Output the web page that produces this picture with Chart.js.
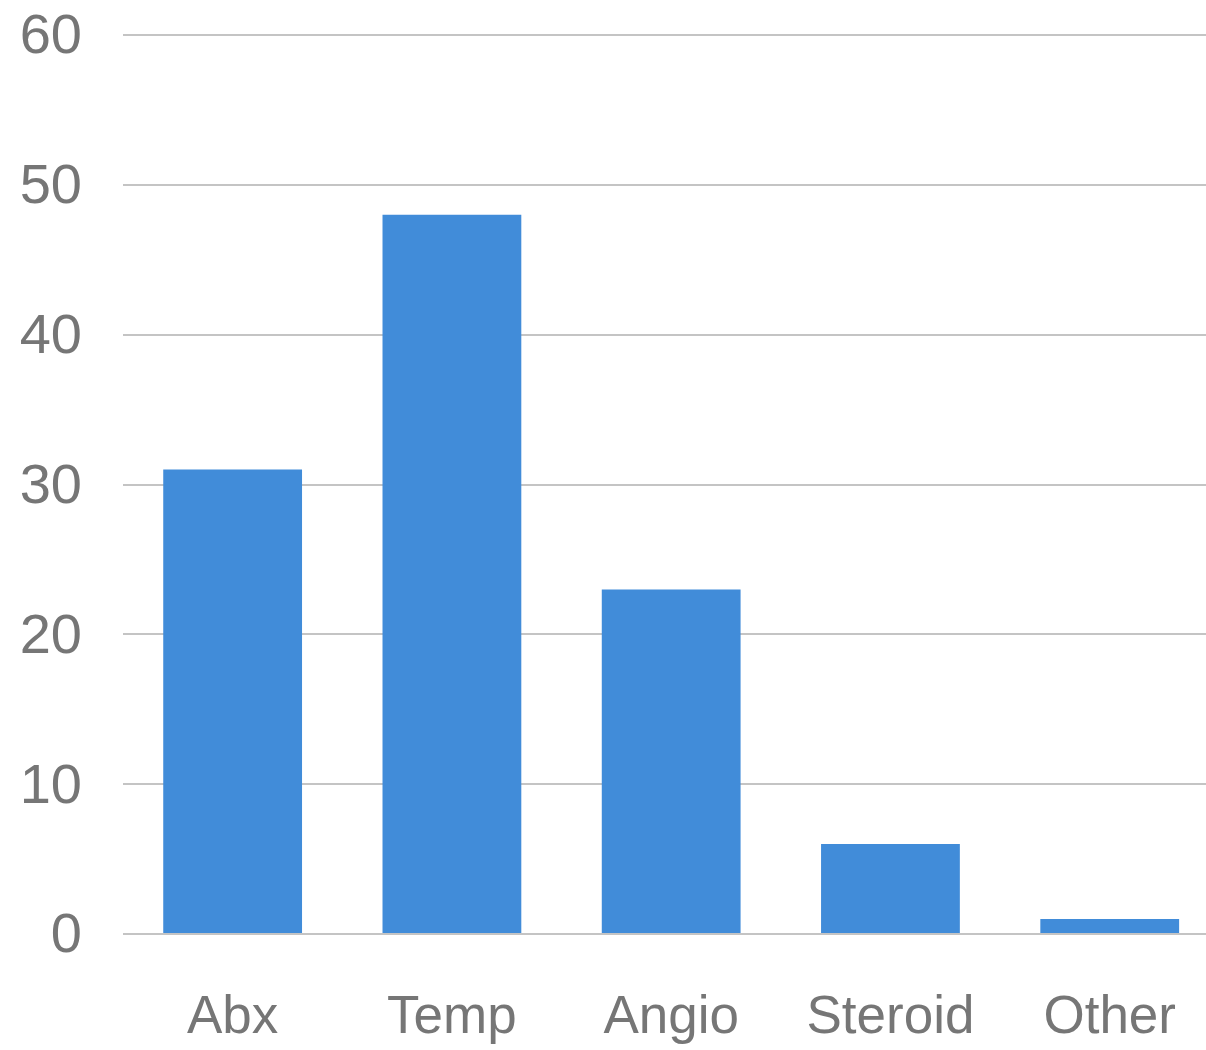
<!DOCTYPE html>
<html>
<head>
<meta charset="utf-8">
<script src="https://cdn.jsdelivr.net/npm/chart.js@4/dist/chart.umd.min.js"></script>
<style>
  html, body { margin: 0; padding: 0; background: #fff; overflow: hidden; }
  /* plot runs a little past the right edge of the window */
  #wrap { width: 1221px; height: 1050px; }
</style>
</head>
<body>
<div id="wrap"><canvas id="chart"></canvas></div>
<script>
// categories and counts
var categories = ["Abx", "Temp", "Angio", "Steroid", "Other"];
var counts = [31, 48, 23, 6, 1];
var yTicks = [0, 10, 20, 30, 40, 50, 60];

var ctx = document.getElementById("chart");

var myChart = new Chart(ctx, {
  type: "bar",
  data: {
    labels: categories,
    datasets: [
      {
        label: "Count",
        data: counts,
        backgroundColor: "#418cd9",
        borderWidth: 0,
        categoryPercentage: 1,
        barPercentage: 0.633,
      },
    ],
  },
  options: {
    responsive: true,
    maintainAspectRatio: false,
    animation: false,
    events: [],
    layout: {
      padding: { top: 35, right: 0, bottom: 0, left: 0 },
    },
    plugins: {
      legend: { display: false },
      tooltip: { enabled: false },
    },
    scales: {
      x: {
        grid: { display: false },
        border: { display: false },
        ticks: {
          color: "#767676",
          padding: 45,
          font: { family: "Liberation Sans", size: 53 },
        },
        afterFit: function (scale) {
          scale.height = 116;
        },
      },
      y: {
        min: yTicks[0],
        max: yTicks[yTicks.length - 1],
        border: { display: false },
        grid: {
          color: "#c4c4c4",
          lineWidth: 2,
          drawTicks: false,
        },
        ticks: {
          stepSize: yTicks[1] - yTicks[0],
          color: "#767676",
          padding: 41,
          labelOffset: 3,
          font: { family: "Liberation Sans", size: 56 },
        },
        afterFit: function (scale) {
          scale.width = 123;
          scale.paddingTop = 0;
        },
      },
    },
  },
});
</script>
</body>
</html>
